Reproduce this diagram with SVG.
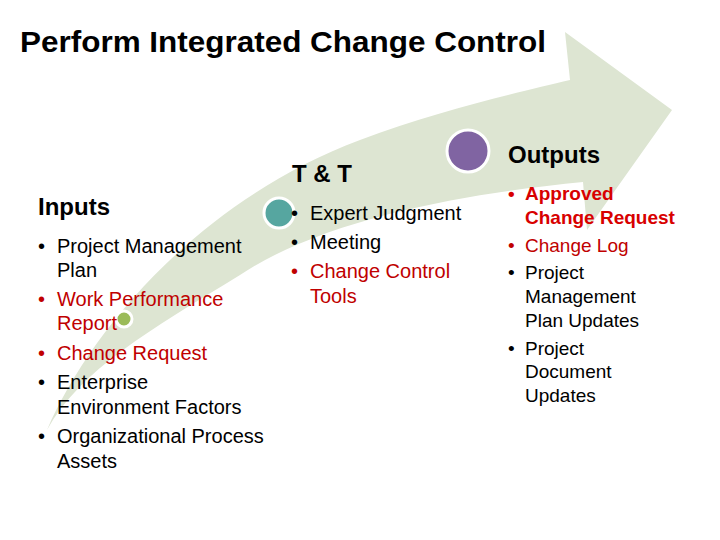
<svg xmlns="http://www.w3.org/2000/svg" width="720" height="540" viewBox="0 0 720 540">
<style>
text{font-family:"Liberation Sans",Arial,sans-serif;fill:#000}
.h{font-weight:bold;font-size:24px}
.it{font-size:20px}
.ot{font-size:19px}
.red{fill:#c00000}
.bred{fill:#d80000;font-weight:bold}
.ring{stroke:#fff;stroke-width:3}
</style>
<rect width="720" height="540" fill="#fff"/>
<g id="arrow">
<path d="M47,430 C90,330 200,200 360,140 C440,110 520,92 570,80 L565,32 L672,110 L587,230 L583,182 C480,192 330,215 240,275 C150,330 80,370 47,430 Z" fill="#dde5d2"/>
</g>
<g id="title">
<text x="20" y="52" font-weight="bold" font-size="30" textLength="526" lengthAdjust="spacingAndGlyphs">Perform Integrated Change Control</text>
</g>
<g id="markers">
<circle cx="124" cy="319" r="8" fill="#9bbb59" class="ring"/>
<circle cx="279" cy="213" r="15" fill="#56a6a0" class="ring"/>
<circle cx="468" cy="151" r="21" fill="#8064a2" class="ring"/>
</g>
<g id="inputs">
<text x="38" y="215" class="h">Inputs</text>
<g class="it">
<text x="38" y="253" class="it">•</text><text x="57" y="253" class="it">Project Management</text>
<text x="57" y="277" class="it">Plan</text>
<text x="38" y="306" class="it red">•</text><text x="57" y="306" class="it red">Work Performance</text>
<text x="57" y="330" class="it red">Report</text>
<text x="38" y="360" class="it red">•</text><text x="57" y="360" class="it red">Change Request</text>
<text x="38" y="389" class="it">•</text><text x="57" y="389" class="it">Enterprise</text>
<text x="57" y="414" class="it">Environment Factors</text>
<text x="38" y="443" class="it">•</text><text x="57" y="443" class="it">Organizational Process</text>
<text x="57" y="468" class="it">Assets</text>
</g>
</g>
<g id="tt">
<text x="292" y="182" class="h">T &amp; T</text>
<text x="291" y="220" class="it">•</text><text x="310" y="220" class="it">Expert Judgment</text>
<text x="291" y="249" class="it">•</text><text x="310" y="249" class="it">Meeting</text>
<text x="291" y="278" class="it red">•</text><text x="310" y="278" class="it red">Change Control</text>
<text x="310" y="303" class="it red">Tools</text>
</g>
<g id="outputs">
<text x="508" y="163" class="h">Outputs</text>
<text x="508" y="200" class="ot bred">•</text><text x="525" y="200" class="ot bred" font-size="18">Approved</text>
<text x="525" y="224" class="ot bred" font-size="18">Change Request</text>
<text x="508" y="252" class="ot red">•</text><text x="525" y="252" class="ot red">Change Log</text>
<text x="508" y="279" class="ot">•</text><text x="525" y="279" class="ot">Project</text>
<text x="525" y="303" class="ot">Management</text>
<text x="525" y="327" class="ot">Plan Updates</text>
<text x="508" y="355" class="ot">•</text><text x="525" y="355" class="ot">Project</text>
<text x="525" y="378" class="ot">Document</text>
<text x="525" y="402" class="ot">Updates</text>
</g>
</svg>
